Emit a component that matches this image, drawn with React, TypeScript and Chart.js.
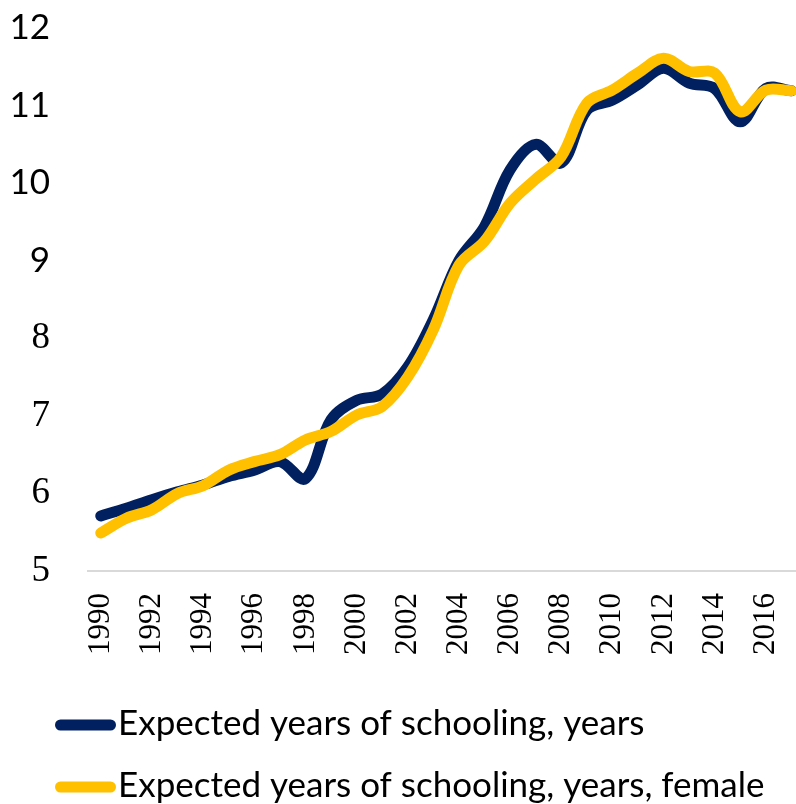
import React, { useEffect, useRef } from "react";
import { Chart, registerables } from "chart.js";

Chart.register(...registerables);

const YEARS = [1990, 1991, 1992, 1993, 1994, 1995, 1996, 1997, 1998, 1999, 2000, 2001, 2002, 2003, 2004, 2005, 2006, 2007, 2008, 2009, 2010, 2011, 2012, 2013, 2014, 2015, 2016, 2017];
const SCHOOLING = [5.71, 5.81, 5.92, 6.02, 6.11, 6.22, 6.3, 6.41, 6.19, 6.95, 7.2, 7.28, 7.63, 8.24, 9.0, 9.44, 10.17, 10.5, 10.26, 10.94, 11.07, 11.27, 11.48, 11.29, 11.22, 10.79, 11.22, 11.19];
const SCHOOLING_FEMALE = [5.49, 5.68, 5.79, 6.0, 6.1, 6.3, 6.41, 6.5, 6.69, 6.8, 7.01, 7.12, 7.5, 8.11, 8.94, 9.25, 9.74, 10.05, 10.34, 11.03, 11.2, 11.42, 11.61, 11.44, 11.42, 10.92, 11.2, 11.19];
const SERIES_LABELS = ["Expected years of schooling, years", "Expected years of schooling, years, female"];
const SERIES_COLORS = ["#002060", "#FFC000"];
const X_TICKS = [1990, 1992, 1994, 1996, 1998, 2000, 2002, 2004, 2006, 2008, 2010, 2012, 2014, 2016];
const Y_MIN = 5;
const Y_MAX = 12;

const legendPlugin = {
  id: "customLegend",
  afterDraw(chart: any) {
    const ctx = chart.ctx;
    ctx.save();
    SERIES_LABELS.forEach((label, i) => {
      const cy = 725 + i * 62;
      ctx.strokeStyle = SERIES_COLORS[i];
      ctx.lineWidth = 11;
      ctx.lineCap = "round";
      ctx.beginPath();
      ctx.moveTo(60.5, cy);
      ctx.lineTo(110.5, cy);
      ctx.stroke();
      ctx.fillStyle = "#000000";
      ctx.font = "35px Lato";
      ctx.textBaseline = "alphabetic";
      ctx.textAlign = "left";
      ctx.fillText(label, 118, cy + 10);
    });
    ctx.restore();
  },
};

export default function App() {
  const ref = useRef<HTMLCanvasElement | null>(null);
  useEffect(() => {
    if (!ref.current) return;
    const chart = new Chart(ref.current, {
      type: "line",
      data: {
        datasets: [
          {
            label: SERIES_LABELS[0],
            data: YEARS.map((yr, i) => ({ x: yr, y: SCHOOLING[i] })),
            borderColor: SERIES_COLORS[0],
            backgroundColor: SERIES_COLORS[0],
            borderWidth: 11,
            pointRadius: 0,
            tension: 0.35,
            borderCapStyle: "round",
            borderJoinStyle: "round",
            order: 1,
          },
          {
            label: SERIES_LABELS[1],
            data: YEARS.map((yr, i) => ({ x: yr, y: SCHOOLING_FEMALE[i] })),
            borderColor: SERIES_COLORS[1],
            backgroundColor: SERIES_COLORS[1],
            borderWidth: 11,
            pointRadius: 0,
            tension: 0.35,
            borderCapStyle: "round",
            borderJoinStyle: "round",
            order: 0,
          },
        ],
      },
      options: {
        responsive: false,
        animation: false,
        devicePixelRatio: 1,
        layout: { padding: { top: 28, right: 0, left: 0, bottom: 133 } },
        plugins: { legend: { display: false }, tooltip: { enabled: false } },
        scales: {
          x: {
            type: "linear",
            min: 1989.5,
            max: 2017.18,
            grid: { display: false, drawTicks: false },
            border: { display: true, color: "#d9d9d9", width: 2 },
            afterBuildTicks: (scale: any) => {
              scale.ticks = X_TICKS.map((v) => ({ value: v }));
            },
            afterFit: (scale: any) => {
              scale.height = 100;
              scale.paddingLeft = 0;
              scale.paddingRight = 0;
            },
            ticks: {
              autoSkip: false,
              maxRotation: 90,
              minRotation: 90,
              padding: 22,
              color: "#000000",
              font: { family: "'Liberation Serif'", size: 31 },
              callback: (v: any) => String(v),
            },
          },
          y: {
            min: Y_MIN,
            max: Y_MAX,
            grid: { display: false, drawTicks: false },
            border: { display: false },
            afterFit: (scale: any) => {
              scale.width = 88;
              scale.paddingTop = 0;
              scale.paddingBottom = 0;
            },
            ticks: {
              stepSize: 1,
              padding: 38,
              color: "#000000",
              font: (c: any) =>
                c.tick && c.tick.value >= 9
                  ? { family: "Lato", size: 35 }
                  : { family: "'Liberation Serif'", size: 37 },
            },
          },
        },
      },
      plugins: [legendPlugin],
    });
    return () => chart.destroy();
  }, []);
  return (
    <div style={{ position: "fixed", left: 0, top: 0, width: 796, height: 804, background: "#ffffff" }}>
      <canvas ref={ref} width={796} height={804} style={{ width: 796, height: 804, display: "block" }} />
    </div>
  );
}
